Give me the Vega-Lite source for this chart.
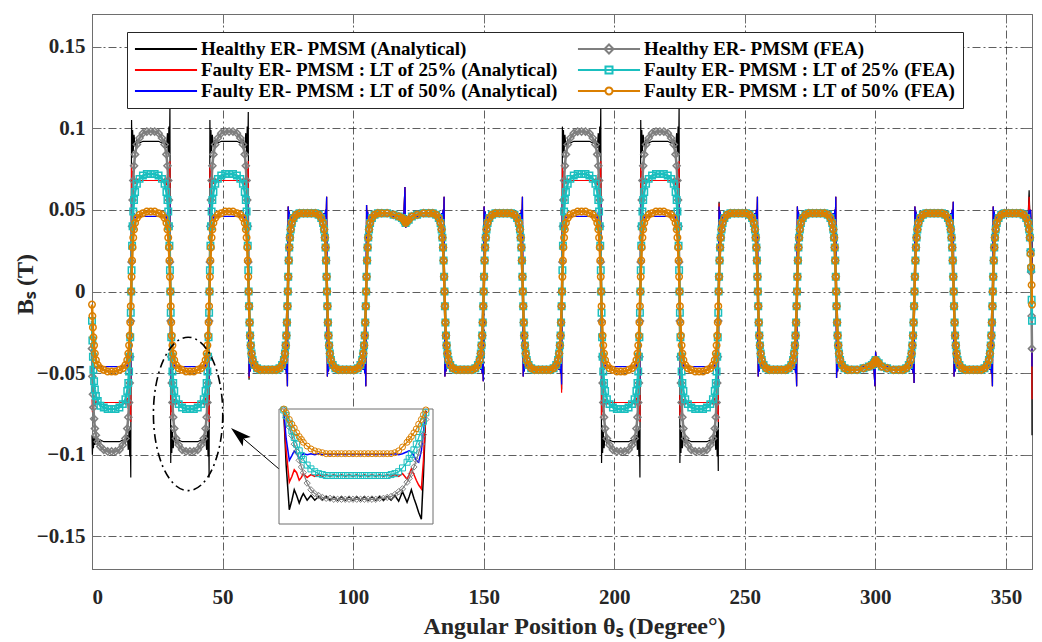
{
"$schema": "https://vega.github.io/schema/vega-lite/v6.json",
"width": 940,
"height": 555,
"autosize": {"type": "none"},
"padding": {"left": 92, "top": 14, "right": 10, "bottom": 73},
"background": "white",
"config": {
  "view": {"stroke": "#6e6e6e", "strokeWidth": 1},
  "axis": {
    "labelFont": "Liberation Serif", "labelFontWeight": "bold", "labelFontSize": 21, "labelColor": "#262626",
    "titleFont": "Liberation Serif", "titleFontWeight": "bold", "titleFontSize": 24, "titleColor": "#262626",
    "domainColor": "#6e6e6e", "tickColor": "#6e6e6e", "tickSize": -9, "tickWidth": 1,
    "gridColor": "#1a1a1a", "gridOpacity": 0.7, "gridDash": [8, 3, 2, 3], "gridWidth": 1
  }
},
"datasets": {
"main": [
{"x":0,"a":-0.088,"b":-0.066,"c":-0.046,"d":-0.035,"e":-0.018,"f":-0.008},
{"x":0.15,"a":-0.1,"b":-0.074,"c":-0.051,"d":-0.052,"e":-0.03,"f":-0.015},
{"x":0.35,"a":-0.09,"b":-0.066,"c":-0.045,"d":-0.063,"e":-0.04,"f":-0.022},
{"x":0.55,"a":-0.096,"b":-0.071,"c":-0.048,"d":-0.071,"e":-0.048,"f":-0.028},
{"x":0.8,"a":-0.089,"b":-0.066,"c":-0.045,"d":-0.078,"e":-0.055,"f":-0.033},
{"x":1.1,"a":-0.094,"b":-0.07,"c":-0.047,"d":-0.084,"e":-0.06,"f":-0.038},
{"x":1.5,"a":-0.09,"b":-0.067,"c":-0.046,"d":-0.088,"e":-0.064,"f":-0.042},
{"x":2.2,"a":-0.093,"b":-0.069,"c":-0.046,"d":-0.092,"e":-0.067,"f":-0.045},
{"x":3.2,"a":-0.091,"b":-0.068,"c":-0.046,"d":-0.095,"e":-0.07,"f":-0.047},
{"x":4.5,"a":-0.092,"b":-0.068,"c":-0.046,"d":-0.097,"e":-0.071,"f":-0.048},
{"x":6,"a":-0.092,"b":-0.068,"c":-0.046,"d":-0.098,"e":-0.072,"f":-0.049},
{"x":7.5,"a":-0.092,"b":-0.068,"c":-0.046,"d":-0.098,"e":-0.072,"f":-0.049},
{"x":9,"a":-0.092,"b":-0.068,"c":-0.046,"d":-0.098,"e":-0.072,"f":-0.049},
{"x":10.5,"a":-0.092,"b":-0.068,"c":-0.046,"d":-0.097,"e":-0.071,"f":-0.048},
{"x":11.8,"a":-0.091,"b":-0.068,"c":-0.046,"d":-0.094,"e":-0.069,"f":-0.047},
{"x":12.8,"a":-0.093,"b":-0.069,"c":-0.046,"d":-0.09,"e":-0.066,"f":-0.045},
{"x":13.5,"a":-0.088,"b":-0.065,"c":-0.045,"d":-0.084,"e":-0.061,"f":-0.042},
{"x":13.9,"a":-0.097,"b":-0.072,"c":-0.049,"d":-0.077,"e":-0.056,"f":-0.038},
{"x":14.2,"a":-0.084,"b":-0.062,"c":-0.042,"d":-0.068,"e":-0.049,"f":-0.033},
{"x":14.45,"a":-0.101,"b":-0.075,"c":-0.051,"d":-0.056,"e":-0.04,"f":-0.027},
{"x":14.65,"a":-0.083,"b":-0.061,"c":-0.042,"d":-0.04,"e":-0.028,"f":-0.019},
{"x":14.85,"a":-0.114,"b":-0.08,"c":-0.056,"d":-0.018,"e":-0.013,"f":-0.009},
{"x":15,"a":0,"b":0,"c":0,"d":0,"e":0,"f":0},
{"x":15.15,"a":0.105,"b":0.078,"c":0.054,"d":0.018,"e":0.013,"f":0.009},
{"x":15.35,"a":0.082,"b":0.062,"c":0.042,"d":0.04,"e":0.028,"f":0.019},
{"x":15.55,"a":0.099,"b":0.074,"c":0.05,"d":0.056,"e":0.04,"f":0.027},
{"x":15.8,"a":0.086,"b":0.064,"c":0.043,"d":0.068,"e":0.049,"f":0.033},
{"x":16.1,"a":0.096,"b":0.071,"c":0.048,"d":0.077,"e":0.056,"f":0.038},
{"x":16.5,"a":0.089,"b":0.066,"c":0.045,"d":0.084,"e":0.061,"f":0.042},
{"x":17.2,"a":0.093,"b":0.069,"c":0.046,"d":0.09,"e":0.066,"f":0.045},
{"x":18.2,"a":0.091,"b":0.068,"c":0.046,"d":0.094,"e":0.069,"f":0.047},
{"x":19.5,"a":0.092,"b":0.068,"c":0.046,"d":0.097,"e":0.071,"f":0.048},
{"x":21,"a":0.092,"b":0.068,"c":0.046,"d":0.098,"e":0.072,"f":0.049},
{"x":22.5,"a":0.092,"b":0.068,"c":0.046,"d":0.098,"e":0.072,"f":0.049},
{"x":24,"a":0.092,"b":0.068,"c":0.046,"d":0.098,"e":0.072,"f":0.049},
{"x":25.5,"a":0.092,"b":0.068,"c":0.046,"d":0.097,"e":0.071,"f":0.048},
{"x":26.8,"a":0.091,"b":0.068,"c":0.046,"d":0.094,"e":0.069,"f":0.047},
{"x":27.8,"a":0.093,"b":0.069,"c":0.046,"d":0.09,"e":0.066,"f":0.045},
{"x":28.5,"a":0.088,"b":0.065,"c":0.045,"d":0.084,"e":0.061,"f":0.042},
{"x":28.9,"a":0.097,"b":0.072,"c":0.049,"d":0.077,"e":0.056,"f":0.038},
{"x":29.2,"a":0.084,"b":0.062,"c":0.042,"d":0.068,"e":0.049,"f":0.033},
{"x":29.45,"a":0.101,"b":0.075,"c":0.051,"d":0.056,"e":0.04,"f":0.027},
{"x":29.65,"a":0.083,"b":0.061,"c":0.042,"d":0.04,"e":0.028,"f":0.019},
{"x":29.85,"a":0.114,"b":0.08,"c":0.056,"d":0.018,"e":0.013,"f":0.009},
{"x":30,"a":0,"b":0,"c":0,"d":0,"e":0,"f":0},
{"x":30.15,"a":-0.105,"b":-0.078,"c":-0.054,"d":-0.018,"e":-0.013,"f":-0.009},
{"x":30.35,"a":-0.082,"b":-0.062,"c":-0.042,"d":-0.04,"e":-0.028,"f":-0.019},
{"x":30.55,"a":-0.099,"b":-0.074,"c":-0.05,"d":-0.056,"e":-0.04,"f":-0.027},
{"x":30.8,"a":-0.086,"b":-0.064,"c":-0.043,"d":-0.068,"e":-0.049,"f":-0.033},
{"x":31.1,"a":-0.096,"b":-0.071,"c":-0.048,"d":-0.077,"e":-0.056,"f":-0.038},
{"x":31.5,"a":-0.089,"b":-0.066,"c":-0.045,"d":-0.084,"e":-0.061,"f":-0.042},
{"x":32.2,"a":-0.093,"b":-0.069,"c":-0.046,"d":-0.09,"e":-0.066,"f":-0.045},
{"x":33.2,"a":-0.091,"b":-0.068,"c":-0.046,"d":-0.094,"e":-0.069,"f":-0.047},
{"x":34.5,"a":-0.092,"b":-0.068,"c":-0.046,"d":-0.097,"e":-0.071,"f":-0.048},
{"x":36,"a":-0.092,"b":-0.068,"c":-0.046,"d":-0.098,"e":-0.072,"f":-0.049},
{"x":37.5,"a":-0.092,"b":-0.068,"c":-0.046,"d":-0.098,"e":-0.072,"f":-0.049},
{"x":39,"a":-0.092,"b":-0.068,"c":-0.046,"d":-0.098,"e":-0.072,"f":-0.049},
{"x":40.5,"a":-0.092,"b":-0.068,"c":-0.046,"d":-0.097,"e":-0.071,"f":-0.048},
{"x":41.8,"a":-0.091,"b":-0.068,"c":-0.046,"d":-0.094,"e":-0.069,"f":-0.047},
{"x":42.8,"a":-0.093,"b":-0.069,"c":-0.046,"d":-0.09,"e":-0.066,"f":-0.045},
{"x":43.5,"a":-0.088,"b":-0.065,"c":-0.045,"d":-0.084,"e":-0.061,"f":-0.042},
{"x":43.9,"a":-0.097,"b":-0.072,"c":-0.049,"d":-0.077,"e":-0.056,"f":-0.038},
{"x":44.2,"a":-0.084,"b":-0.062,"c":-0.042,"d":-0.068,"e":-0.049,"f":-0.033},
{"x":44.45,"a":-0.101,"b":-0.075,"c":-0.051,"d":-0.056,"e":-0.04,"f":-0.027},
{"x":44.65,"a":-0.083,"b":-0.061,"c":-0.042,"d":-0.04,"e":-0.028,"f":-0.019},
{"x":44.85,"a":-0.114,"b":-0.08,"c":-0.056,"d":-0.018,"e":-0.013,"f":-0.009},
{"x":45,"a":0,"b":0,"c":0,"d":0,"e":0,"f":0},
{"x":45.15,"a":0.105,"b":0.078,"c":0.054,"d":0.018,"e":0.013,"f":0.009},
{"x":45.35,"a":0.082,"b":0.062,"c":0.042,"d":0.04,"e":0.028,"f":0.019},
{"x":45.55,"a":0.099,"b":0.074,"c":0.05,"d":0.056,"e":0.04,"f":0.027},
{"x":45.8,"a":0.086,"b":0.064,"c":0.043,"d":0.068,"e":0.049,"f":0.033},
{"x":46.1,"a":0.096,"b":0.071,"c":0.048,"d":0.077,"e":0.056,"f":0.038},
{"x":46.5,"a":0.089,"b":0.066,"c":0.045,"d":0.084,"e":0.061,"f":0.042},
{"x":47.2,"a":0.093,"b":0.069,"c":0.046,"d":0.09,"e":0.066,"f":0.045},
{"x":48.2,"a":0.091,"b":0.068,"c":0.046,"d":0.094,"e":0.069,"f":0.047},
{"x":49.5,"a":0.092,"b":0.068,"c":0.046,"d":0.097,"e":0.071,"f":0.048},
{"x":51,"a":0.092,"b":0.068,"c":0.046,"d":0.098,"e":0.072,"f":0.049},
{"x":52.5,"a":0.092,"b":0.068,"c":0.046,"d":0.098,"e":0.072,"f":0.049},
{"x":54,"a":0.092,"b":0.068,"c":0.046,"d":0.098,"e":0.072,"f":0.049},
{"x":55.5,"a":0.092,"b":0.068,"c":0.046,"d":0.097,"e":0.071,"f":0.048},
{"x":56.8,"a":0.091,"b":0.068,"c":0.046,"d":0.094,"e":0.069,"f":0.047},
{"x":57.8,"a":0.093,"b":0.069,"c":0.046,"d":0.09,"e":0.066,"f":0.045},
{"x":58.5,"a":0.088,"b":0.065,"c":0.045,"d":0.084,"e":0.061,"f":0.042},
{"x":58.9,"a":0.097,"b":0.072,"c":0.049,"d":0.077,"e":0.056,"f":0.038},
{"x":59.2,"a":0.084,"b":0.062,"c":0.042,"d":0.068,"e":0.049,"f":0.033},
{"x":59.45,"a":0.101,"b":0.075,"c":0.051,"d":0.056,"e":0.04,"f":0.027},
{"x":59.65,"a":0.083,"b":0.061,"c":0.042,"d":0.04,"e":0.028,"f":0.019},
{"x":59.85,"a":0.11,"b":0.08,"c":0.056,"d":0.018,"e":0.013,"f":0.009},
{"x":60,"a":0,"b":0,"c":0,"d":0,"e":0,"f":0},
{"x":60.15,"a":-0.054,"b":-0.053,"c":-0.052,"d":-0.009,"e":-0.009,"f":-0.009},
{"x":60.35,"a":-0.041,"b":-0.041,"c":-0.041,"d":-0.019,"e":-0.019,"f":-0.019},
{"x":60.55,"a":-0.049,"b":-0.049,"c":-0.049,"d":-0.027,"e":-0.027,"f":-0.027},
{"x":60.8,"a":-0.043,"b":-0.043,"c":-0.043,"d":-0.033,"e":-0.033,"f":-0.033},
{"x":61.1,"a":-0.047,"b":-0.047,"c":-0.047,"d":-0.038,"e":-0.038,"f":-0.038},
{"x":61.5,"a":-0.045,"b":-0.045,"c":-0.045,"d":-0.042,"e":-0.042,"f":-0.042},
{"x":62.2,"a":-0.046,"b":-0.046,"c":-0.046,"d":-0.045,"e":-0.045,"f":-0.045},
{"x":63.2,"a":-0.046,"b":-0.046,"c":-0.046,"d":-0.047,"e":-0.047,"f":-0.047},
{"x":64.5,"a":-0.046,"b":-0.046,"c":-0.046,"d":-0.048,"e":-0.048,"f":-0.048},
{"x":66,"a":-0.046,"b":-0.046,"c":-0.046,"d":-0.048,"e":-0.048,"f":-0.048},
{"x":67.5,"a":-0.046,"b":-0.046,"c":-0.046,"d":-0.048,"e":-0.048,"f":-0.048},
{"x":69,"a":-0.046,"b":-0.046,"c":-0.046,"d":-0.048,"e":-0.048,"f":-0.048},
{"x":70.5,"a":-0.046,"b":-0.046,"c":-0.046,"d":-0.048,"e":-0.048,"f":-0.048},
{"x":71.8,"a":-0.046,"b":-0.046,"c":-0.046,"d":-0.047,"e":-0.047,"f":-0.047},
{"x":72.8,"a":-0.046,"b":-0.046,"c":-0.046,"d":-0.045,"e":-0.045,"f":-0.045},
{"x":73.5,"a":-0.045,"b":-0.045,"c":-0.045,"d":-0.042,"e":-0.042,"f":-0.042},
{"x":73.9,"a":-0.048,"b":-0.048,"c":-0.048,"d":-0.038,"e":-0.038,"f":-0.038},
{"x":74.2,"a":-0.043,"b":-0.043,"c":-0.043,"d":-0.033,"e":-0.033,"f":-0.033},
{"x":74.45,"a":-0.05,"b":-0.05,"c":-0.05,"d":-0.027,"e":-0.027,"f":-0.027},
{"x":74.65,"a":-0.042,"b":-0.042,"c":-0.042,"d":-0.019,"e":-0.019,"f":-0.019},
{"x":74.85,"a":-0.058,"b":-0.058,"c":-0.058,"d":-0.009,"e":-0.009,"f":-0.009},
{"x":75,"a":0,"b":0,"c":0,"d":0,"e":0,"f":0},
{"x":75.15,"a":0.052,"b":0.052,"c":0.052,"d":0.009,"e":0.009,"f":0.009},
{"x":75.35,"a":0.041,"b":0.041,"c":0.041,"d":0.019,"e":0.019,"f":0.019},
{"x":75.55,"a":0.049,"b":0.049,"c":0.049,"d":0.027,"e":0.027,"f":0.027},
{"x":75.8,"a":0.043,"b":0.043,"c":0.043,"d":0.033,"e":0.033,"f":0.033},
{"x":76.1,"a":0.047,"b":0.047,"c":0.047,"d":0.038,"e":0.038,"f":0.038},
{"x":76.5,"a":0.045,"b":0.045,"c":0.045,"d":0.042,"e":0.042,"f":0.042},
{"x":77.2,"a":0.046,"b":0.046,"c":0.046,"d":0.045,"e":0.045,"f":0.045},
{"x":78.2,"a":0.046,"b":0.046,"c":0.046,"d":0.047,"e":0.047,"f":0.047},
{"x":79.5,"a":0.046,"b":0.046,"c":0.046,"d":0.048,"e":0.048,"f":0.048},
{"x":81,"a":0.046,"b":0.046,"c":0.046,"d":0.048,"e":0.048,"f":0.048},
{"x":82.5,"a":0.046,"b":0.046,"c":0.046,"d":0.048,"e":0.048,"f":0.048},
{"x":84,"a":0.046,"b":0.046,"c":0.046,"d":0.048,"e":0.048,"f":0.048},
{"x":85.5,"a":0.046,"b":0.046,"c":0.046,"d":0.048,"e":0.048,"f":0.048},
{"x":86.8,"a":0.046,"b":0.046,"c":0.046,"d":0.047,"e":0.047,"f":0.047},
{"x":87.8,"a":0.046,"b":0.046,"c":0.046,"d":0.045,"e":0.045,"f":0.045},
{"x":88.5,"a":0.045,"b":0.045,"c":0.045,"d":0.042,"e":0.042,"f":0.042},
{"x":88.9,"a":0.048,"b":0.048,"c":0.048,"d":0.038,"e":0.038,"f":0.038},
{"x":89.2,"a":0.043,"b":0.043,"c":0.043,"d":0.033,"e":0.033,"f":0.033},
{"x":89.45,"a":0.05,"b":0.05,"c":0.05,"d":0.027,"e":0.027,"f":0.027},
{"x":89.65,"a":0.042,"b":0.042,"c":0.042,"d":0.019,"e":0.019,"f":0.019},
{"x":89.85,"a":0.058,"b":0.058,"c":0.058,"d":0.009,"e":0.009,"f":0.009},
{"x":90,"a":0,"b":0,"c":0,"d":0,"e":0,"f":0},
{"x":90.15,"a":-0.052,"b":-0.052,"c":-0.052,"d":-0.009,"e":-0.009,"f":-0.009},
{"x":90.35,"a":-0.041,"b":-0.041,"c":-0.041,"d":-0.019,"e":-0.019,"f":-0.019},
{"x":90.55,"a":-0.049,"b":-0.049,"c":-0.049,"d":-0.027,"e":-0.027,"f":-0.027},
{"x":90.8,"a":-0.043,"b":-0.043,"c":-0.043,"d":-0.033,"e":-0.033,"f":-0.033},
{"x":91.1,"a":-0.047,"b":-0.047,"c":-0.047,"d":-0.038,"e":-0.038,"f":-0.038},
{"x":91.5,"a":-0.045,"b":-0.045,"c":-0.045,"d":-0.042,"e":-0.042,"f":-0.042},
{"x":92.2,"a":-0.046,"b":-0.046,"c":-0.046,"d":-0.045,"e":-0.045,"f":-0.045},
{"x":93.2,"a":-0.046,"b":-0.046,"c":-0.046,"d":-0.047,"e":-0.047,"f":-0.047},
{"x":94.5,"a":-0.046,"b":-0.046,"c":-0.046,"d":-0.048,"e":-0.048,"f":-0.048},
{"x":96,"a":-0.046,"b":-0.046,"c":-0.046,"d":-0.048,"e":-0.048,"f":-0.048},
{"x":97.5,"a":-0.046,"b":-0.046,"c":-0.046,"d":-0.048,"e":-0.048,"f":-0.048},
{"x":99,"a":-0.046,"b":-0.046,"c":-0.046,"d":-0.048,"e":-0.048,"f":-0.048},
{"x":100.5,"a":-0.046,"b":-0.046,"c":-0.046,"d":-0.048,"e":-0.048,"f":-0.048},
{"x":101.8,"a":-0.046,"b":-0.046,"c":-0.046,"d":-0.047,"e":-0.047,"f":-0.047},
{"x":102.8,"a":-0.046,"b":-0.046,"c":-0.046,"d":-0.045,"e":-0.045,"f":-0.045},
{"x":103.5,"a":-0.045,"b":-0.045,"c":-0.045,"d":-0.042,"e":-0.042,"f":-0.042},
{"x":103.9,"a":-0.048,"b":-0.048,"c":-0.048,"d":-0.038,"e":-0.038,"f":-0.038},
{"x":104.2,"a":-0.043,"b":-0.043,"c":-0.043,"d":-0.033,"e":-0.033,"f":-0.033},
{"x":104.45,"a":-0.05,"b":-0.05,"c":-0.05,"d":-0.027,"e":-0.027,"f":-0.027},
{"x":104.65,"a":-0.042,"b":-0.042,"c":-0.042,"d":-0.019,"e":-0.019,"f":-0.019},
{"x":104.85,"a":-0.058,"b":-0.058,"c":-0.058,"d":-0.009,"e":-0.009,"f":-0.009},
{"x":105,"a":0,"b":0,"c":0,"d":0,"e":0,"f":0},
{"x":105.15,"a":0.053,"b":0.053,"c":0.053,"d":0.009,"e":0.009,"f":0.009},
{"x":105.35,"a":0.041,"b":0.041,"c":0.041,"d":0.019,"e":0.019,"f":0.019},
{"x":105.55,"a":0.049,"b":0.049,"c":0.049,"d":0.027,"e":0.027,"f":0.027},
{"x":105.8,"a":0.043,"b":0.043,"c":0.043,"d":0.033,"e":0.033,"f":0.033},
{"x":106.1,"a":0.047,"b":0.047,"c":0.047,"d":0.038,"e":0.038,"f":0.038},
{"x":106.5,"a":0.045,"b":0.045,"c":0.045,"d":0.042,"e":0.042,"f":0.042},
{"x":107.2,"a":0.046,"b":0.046,"c":0.046,"d":0.045,"e":0.045,"f":0.045},
{"x":108.2,"a":0.046,"b":0.046,"c":0.046,"d":0.047,"e":0.047,"f":0.047},
{"x":109.5,"a":0.046,"b":0.046,"c":0.046,"d":0.048,"e":0.048,"f":0.048},
{"x":111,"a":0.046,"b":0.046,"c":0.046,"d":0.048,"e":0.048,"f":0.048},
{"x":113,"a":0.046,"b":0.046,"c":0.046,"d":0.048,"e":0.048,"f":0.048},
{"x":115.5,"a":0.046,"b":0.046,"c":0.046,"d":0.047,"e":0.047,"f":0.047},
{"x":117.5,"a":0.046,"b":0.046,"c":0.046,"d":0.046,"e":0.046,"f":0.046},
{"x":118.7,"a":0.045,"b":0.045,"c":0.045,"d":0.045,"e":0.045,"f":0.045},
{"x":119.4,"a":0.046,"b":0.046,"c":0.046,"d":0.044,"e":0.044,"f":0.044},
{"x":119.85,"a":0.064,"b":0.064,"c":0.064,"d":0.043,"e":0.043,"f":0.043},
{"x":120.1,"a":0.039,"b":0.039,"c":0.039,"d":0.042,"e":0.042,"f":0.042},
{"x":120.5,"a":0.046,"b":0.046,"c":0.046,"d":0.043,"e":0.043,"f":0.043},
{"x":121.3,"a":0.045,"b":0.045,"c":0.045,"d":0.044,"e":0.044,"f":0.044},
{"x":122.5,"a":0.046,"b":0.046,"c":0.046,"d":0.046,"e":0.046,"f":0.046},
{"x":124.5,"a":0.046,"b":0.046,"c":0.046,"d":0.047,"e":0.047,"f":0.047},
{"x":127,"a":0.046,"b":0.046,"c":0.046,"d":0.048,"e":0.048,"f":0.048},
{"x":129,"a":0.046,"b":0.046,"c":0.046,"d":0.048,"e":0.048,"f":0.048},
{"x":130.5,"a":0.046,"b":0.046,"c":0.046,"d":0.048,"e":0.048,"f":0.048},
{"x":131.8,"a":0.046,"b":0.046,"c":0.046,"d":0.047,"e":0.047,"f":0.047},
{"x":132.8,"a":0.046,"b":0.046,"c":0.046,"d":0.045,"e":0.045,"f":0.045},
{"x":133.5,"a":0.045,"b":0.045,"c":0.045,"d":0.042,"e":0.042,"f":0.042},
{"x":133.9,"a":0.048,"b":0.048,"c":0.048,"d":0.038,"e":0.038,"f":0.038},
{"x":134.2,"a":0.043,"b":0.043,"c":0.043,"d":0.033,"e":0.033,"f":0.033},
{"x":134.45,"a":0.05,"b":0.05,"c":0.05,"d":0.027,"e":0.027,"f":0.027},
{"x":134.65,"a":0.042,"b":0.042,"c":0.042,"d":0.019,"e":0.019,"f":0.019},
{"x":134.85,"a":0.058,"b":0.058,"c":0.058,"d":0.009,"e":0.009,"f":0.009},
{"x":135,"a":0,"b":0,"c":0,"d":0,"e":0,"f":0},
{"x":135.15,"a":-0.052,"b":-0.052,"c":-0.052,"d":-0.009,"e":-0.009,"f":-0.009},
{"x":135.35,"a":-0.041,"b":-0.041,"c":-0.041,"d":-0.019,"e":-0.019,"f":-0.019},
{"x":135.55,"a":-0.049,"b":-0.049,"c":-0.049,"d":-0.027,"e":-0.027,"f":-0.027},
{"x":135.8,"a":-0.043,"b":-0.043,"c":-0.043,"d":-0.033,"e":-0.033,"f":-0.033},
{"x":136.1,"a":-0.047,"b":-0.047,"c":-0.047,"d":-0.038,"e":-0.038,"f":-0.038},
{"x":136.5,"a":-0.045,"b":-0.045,"c":-0.045,"d":-0.042,"e":-0.042,"f":-0.042},
{"x":137.2,"a":-0.046,"b":-0.046,"c":-0.046,"d":-0.045,"e":-0.045,"f":-0.045},
{"x":138.2,"a":-0.046,"b":-0.046,"c":-0.046,"d":-0.047,"e":-0.047,"f":-0.047},
{"x":139.5,"a":-0.046,"b":-0.046,"c":-0.046,"d":-0.048,"e":-0.048,"f":-0.048},
{"x":141,"a":-0.046,"b":-0.046,"c":-0.046,"d":-0.048,"e":-0.048,"f":-0.048},
{"x":142.5,"a":-0.046,"b":-0.046,"c":-0.046,"d":-0.048,"e":-0.048,"f":-0.048},
{"x":144,"a":-0.046,"b":-0.046,"c":-0.046,"d":-0.048,"e":-0.048,"f":-0.048},
{"x":145.5,"a":-0.046,"b":-0.046,"c":-0.046,"d":-0.048,"e":-0.048,"f":-0.048},
{"x":146.8,"a":-0.046,"b":-0.046,"c":-0.046,"d":-0.047,"e":-0.047,"f":-0.047},
{"x":147.8,"a":-0.046,"b":-0.046,"c":-0.046,"d":-0.045,"e":-0.045,"f":-0.045},
{"x":148.5,"a":-0.045,"b":-0.045,"c":-0.045,"d":-0.042,"e":-0.042,"f":-0.042},
{"x":148.9,"a":-0.048,"b":-0.048,"c":-0.048,"d":-0.038,"e":-0.038,"f":-0.038},
{"x":149.2,"a":-0.043,"b":-0.043,"c":-0.043,"d":-0.033,"e":-0.033,"f":-0.033},
{"x":149.45,"a":-0.05,"b":-0.05,"c":-0.05,"d":-0.027,"e":-0.027,"f":-0.027},
{"x":149.65,"a":-0.042,"b":-0.042,"c":-0.042,"d":-0.019,"e":-0.019,"f":-0.019},
{"x":149.85,"a":-0.055,"b":-0.055,"c":-0.055,"d":-0.009,"e":-0.009,"f":-0.009},
{"x":150,"a":0,"b":0,"c":0,"d":0,"e":0,"f":0},
{"x":150.15,"a":0.052,"b":0.052,"c":0.052,"d":0.009,"e":0.009,"f":0.009},
{"x":150.35,"a":0.041,"b":0.041,"c":0.041,"d":0.019,"e":0.019,"f":0.019},
{"x":150.55,"a":0.049,"b":0.049,"c":0.049,"d":0.027,"e":0.027,"f":0.027},
{"x":150.8,"a":0.043,"b":0.043,"c":0.043,"d":0.033,"e":0.033,"f":0.033},
{"x":151.1,"a":0.047,"b":0.047,"c":0.047,"d":0.038,"e":0.038,"f":0.038},
{"x":151.5,"a":0.045,"b":0.045,"c":0.045,"d":0.042,"e":0.042,"f":0.042},
{"x":152.2,"a":0.046,"b":0.046,"c":0.046,"d":0.045,"e":0.045,"f":0.045},
{"x":153.2,"a":0.046,"b":0.046,"c":0.046,"d":0.047,"e":0.047,"f":0.047},
{"x":154.5,"a":0.046,"b":0.046,"c":0.046,"d":0.048,"e":0.048,"f":0.048},
{"x":156,"a":0.046,"b":0.046,"c":0.046,"d":0.048,"e":0.048,"f":0.048},
{"x":157.5,"a":0.046,"b":0.046,"c":0.046,"d":0.048,"e":0.048,"f":0.048},
{"x":159,"a":0.046,"b":0.046,"c":0.046,"d":0.048,"e":0.048,"f":0.048},
{"x":160.5,"a":0.046,"b":0.046,"c":0.046,"d":0.048,"e":0.048,"f":0.048},
{"x":161.8,"a":0.046,"b":0.046,"c":0.046,"d":0.047,"e":0.047,"f":0.047},
{"x":162.8,"a":0.046,"b":0.046,"c":0.046,"d":0.045,"e":0.045,"f":0.045},
{"x":163.5,"a":0.045,"b":0.045,"c":0.045,"d":0.042,"e":0.042,"f":0.042},
{"x":163.9,"a":0.048,"b":0.048,"c":0.048,"d":0.038,"e":0.038,"f":0.038},
{"x":164.2,"a":0.043,"b":0.043,"c":0.043,"d":0.033,"e":0.033,"f":0.033},
{"x":164.45,"a":0.05,"b":0.05,"c":0.05,"d":0.027,"e":0.027,"f":0.027},
{"x":164.65,"a":0.042,"b":0.042,"c":0.042,"d":0.019,"e":0.019,"f":0.019},
{"x":164.85,"a":0.058,"b":0.058,"c":0.058,"d":0.009,"e":0.009,"f":0.009},
{"x":165,"a":0,"b":0,"c":0,"d":0,"e":0,"f":0},
{"x":165.15,"a":-0.052,"b":-0.052,"c":-0.052,"d":-0.009,"e":-0.009,"f":-0.009},
{"x":165.35,"a":-0.041,"b":-0.041,"c":-0.041,"d":-0.019,"e":-0.019,"f":-0.019},
{"x":165.55,"a":-0.049,"b":-0.049,"c":-0.049,"d":-0.027,"e":-0.027,"f":-0.027},
{"x":165.8,"a":-0.043,"b":-0.043,"c":-0.043,"d":-0.033,"e":-0.033,"f":-0.033},
{"x":166.1,"a":-0.047,"b":-0.047,"c":-0.047,"d":-0.038,"e":-0.038,"f":-0.038},
{"x":166.5,"a":-0.045,"b":-0.045,"c":-0.045,"d":-0.042,"e":-0.042,"f":-0.042},
{"x":167.2,"a":-0.046,"b":-0.046,"c":-0.046,"d":-0.045,"e":-0.045,"f":-0.045},
{"x":168.2,"a":-0.046,"b":-0.046,"c":-0.046,"d":-0.047,"e":-0.047,"f":-0.047},
{"x":169.5,"a":-0.046,"b":-0.046,"c":-0.046,"d":-0.048,"e":-0.048,"f":-0.048},
{"x":171,"a":-0.046,"b":-0.046,"c":-0.046,"d":-0.048,"e":-0.048,"f":-0.048},
{"x":172.5,"a":-0.046,"b":-0.046,"c":-0.046,"d":-0.048,"e":-0.048,"f":-0.048},
{"x":174,"a":-0.046,"b":-0.046,"c":-0.046,"d":-0.048,"e":-0.048,"f":-0.048},
{"x":175.5,"a":-0.046,"b":-0.046,"c":-0.046,"d":-0.048,"e":-0.048,"f":-0.048},
{"x":176.8,"a":-0.046,"b":-0.046,"c":-0.046,"d":-0.047,"e":-0.047,"f":-0.047},
{"x":177.8,"a":-0.046,"b":-0.046,"c":-0.046,"d":-0.045,"e":-0.045,"f":-0.045},
{"x":178.5,"a":-0.045,"b":-0.045,"c":-0.045,"d":-0.042,"e":-0.042,"f":-0.042},
{"x":178.9,"a":-0.048,"b":-0.048,"c":-0.048,"d":-0.038,"e":-0.038,"f":-0.038},
{"x":179.2,"a":-0.043,"b":-0.043,"c":-0.043,"d":-0.033,"e":-0.033,"f":-0.033},
{"x":179.45,"a":-0.05,"b":-0.05,"c":-0.05,"d":-0.027,"e":-0.027,"f":-0.027},
{"x":179.65,"a":-0.042,"b":-0.042,"c":-0.042,"d":-0.019,"e":-0.019,"f":-0.019},
{"x":179.85,"a":-0.06,"b":-0.062,"c":-0.057,"d":-0.009,"e":-0.009,"f":-0.009},
{"x":180,"a":0,"b":0,"c":0,"d":0,"e":0,"f":0},
{"x":180.15,"a":0.101,"b":0.078,"c":0.054,"d":0.018,"e":0.013,"f":0.009},
{"x":180.35,"a":0.082,"b":0.062,"c":0.042,"d":0.04,"e":0.028,"f":0.019},
{"x":180.55,"a":0.099,"b":0.074,"c":0.05,"d":0.056,"e":0.04,"f":0.027},
{"x":180.8,"a":0.086,"b":0.064,"c":0.043,"d":0.068,"e":0.049,"f":0.033},
{"x":181.1,"a":0.096,"b":0.071,"c":0.048,"d":0.077,"e":0.056,"f":0.038},
{"x":181.5,"a":0.089,"b":0.066,"c":0.045,"d":0.084,"e":0.061,"f":0.042},
{"x":182.2,"a":0.093,"b":0.069,"c":0.046,"d":0.09,"e":0.066,"f":0.045},
{"x":183.2,"a":0.091,"b":0.068,"c":0.046,"d":0.094,"e":0.069,"f":0.047},
{"x":184.5,"a":0.092,"b":0.068,"c":0.046,"d":0.097,"e":0.071,"f":0.048},
{"x":186,"a":0.092,"b":0.068,"c":0.046,"d":0.098,"e":0.072,"f":0.049},
{"x":187.5,"a":0.092,"b":0.068,"c":0.046,"d":0.098,"e":0.072,"f":0.049},
{"x":189,"a":0.092,"b":0.068,"c":0.046,"d":0.098,"e":0.072,"f":0.049},
{"x":190.5,"a":0.092,"b":0.068,"c":0.046,"d":0.097,"e":0.071,"f":0.048},
{"x":191.8,"a":0.091,"b":0.068,"c":0.046,"d":0.094,"e":0.069,"f":0.047},
{"x":192.8,"a":0.093,"b":0.069,"c":0.046,"d":0.09,"e":0.066,"f":0.045},
{"x":193.5,"a":0.088,"b":0.065,"c":0.045,"d":0.084,"e":0.061,"f":0.042},
{"x":193.9,"a":0.097,"b":0.072,"c":0.049,"d":0.077,"e":0.056,"f":0.038},
{"x":194.2,"a":0.084,"b":0.062,"c":0.042,"d":0.068,"e":0.049,"f":0.033},
{"x":194.45,"a":0.101,"b":0.075,"c":0.051,"d":0.056,"e":0.04,"f":0.027},
{"x":194.65,"a":0.083,"b":0.061,"c":0.042,"d":0.04,"e":0.028,"f":0.019},
{"x":194.85,"a":0.114,"b":0.08,"c":0.056,"d":0.018,"e":0.013,"f":0.009},
{"x":195,"a":0,"b":0,"c":0,"d":0,"e":0,"f":0},
{"x":195.15,"a":-0.105,"b":-0.078,"c":-0.054,"d":-0.018,"e":-0.013,"f":-0.009},
{"x":195.35,"a":-0.082,"b":-0.062,"c":-0.042,"d":-0.04,"e":-0.028,"f":-0.019},
{"x":195.55,"a":-0.099,"b":-0.074,"c":-0.05,"d":-0.056,"e":-0.04,"f":-0.027},
{"x":195.8,"a":-0.086,"b":-0.064,"c":-0.043,"d":-0.068,"e":-0.049,"f":-0.033},
{"x":196.1,"a":-0.096,"b":-0.071,"c":-0.048,"d":-0.077,"e":-0.056,"f":-0.038},
{"x":196.5,"a":-0.089,"b":-0.066,"c":-0.045,"d":-0.084,"e":-0.061,"f":-0.042},
{"x":197.2,"a":-0.093,"b":-0.069,"c":-0.046,"d":-0.09,"e":-0.066,"f":-0.045},
{"x":198.2,"a":-0.091,"b":-0.068,"c":-0.046,"d":-0.094,"e":-0.069,"f":-0.047},
{"x":199.5,"a":-0.092,"b":-0.068,"c":-0.046,"d":-0.097,"e":-0.071,"f":-0.048},
{"x":201,"a":-0.092,"b":-0.068,"c":-0.046,"d":-0.098,"e":-0.072,"f":-0.049},
{"x":202.5,"a":-0.092,"b":-0.068,"c":-0.046,"d":-0.098,"e":-0.072,"f":-0.049},
{"x":204,"a":-0.092,"b":-0.068,"c":-0.046,"d":-0.098,"e":-0.072,"f":-0.049},
{"x":205.5,"a":-0.092,"b":-0.068,"c":-0.046,"d":-0.097,"e":-0.071,"f":-0.048},
{"x":206.8,"a":-0.091,"b":-0.068,"c":-0.046,"d":-0.094,"e":-0.069,"f":-0.047},
{"x":207.8,"a":-0.093,"b":-0.069,"c":-0.046,"d":-0.09,"e":-0.066,"f":-0.045},
{"x":208.5,"a":-0.088,"b":-0.065,"c":-0.045,"d":-0.084,"e":-0.061,"f":-0.042},
{"x":208.9,"a":-0.097,"b":-0.072,"c":-0.049,"d":-0.077,"e":-0.056,"f":-0.038},
{"x":209.2,"a":-0.084,"b":-0.062,"c":-0.042,"d":-0.068,"e":-0.049,"f":-0.033},
{"x":209.45,"a":-0.101,"b":-0.075,"c":-0.051,"d":-0.056,"e":-0.04,"f":-0.027},
{"x":209.65,"a":-0.083,"b":-0.061,"c":-0.042,"d":-0.04,"e":-0.028,"f":-0.019},
{"x":209.85,"a":-0.114,"b":-0.08,"c":-0.056,"d":-0.018,"e":-0.013,"f":-0.009},
{"x":210,"a":0,"b":0,"c":0,"d":0,"e":0,"f":0},
{"x":210.15,"a":0.105,"b":0.078,"c":0.054,"d":0.018,"e":0.013,"f":0.009},
{"x":210.35,"a":0.082,"b":0.062,"c":0.042,"d":0.04,"e":0.028,"f":0.019},
{"x":210.55,"a":0.099,"b":0.074,"c":0.05,"d":0.056,"e":0.04,"f":0.027},
{"x":210.8,"a":0.086,"b":0.064,"c":0.043,"d":0.068,"e":0.049,"f":0.033},
{"x":211.1,"a":0.096,"b":0.071,"c":0.048,"d":0.077,"e":0.056,"f":0.038},
{"x":211.5,"a":0.089,"b":0.066,"c":0.045,"d":0.084,"e":0.061,"f":0.042},
{"x":212.2,"a":0.093,"b":0.069,"c":0.046,"d":0.09,"e":0.066,"f":0.045},
{"x":213.2,"a":0.091,"b":0.068,"c":0.046,"d":0.094,"e":0.069,"f":0.047},
{"x":214.5,"a":0.092,"b":0.068,"c":0.046,"d":0.097,"e":0.071,"f":0.048},
{"x":216,"a":0.092,"b":0.068,"c":0.046,"d":0.098,"e":0.072,"f":0.049},
{"x":217.5,"a":0.092,"b":0.068,"c":0.046,"d":0.098,"e":0.072,"f":0.049},
{"x":219,"a":0.092,"b":0.068,"c":0.046,"d":0.098,"e":0.072,"f":0.049},
{"x":220.5,"a":0.092,"b":0.068,"c":0.046,"d":0.097,"e":0.071,"f":0.048},
{"x":221.8,"a":0.091,"b":0.068,"c":0.046,"d":0.094,"e":0.069,"f":0.047},
{"x":222.8,"a":0.093,"b":0.069,"c":0.046,"d":0.09,"e":0.066,"f":0.045},
{"x":223.5,"a":0.088,"b":0.065,"c":0.045,"d":0.084,"e":0.061,"f":0.042},
{"x":223.9,"a":0.097,"b":0.072,"c":0.049,"d":0.077,"e":0.056,"f":0.038},
{"x":224.2,"a":0.084,"b":0.062,"c":0.042,"d":0.068,"e":0.049,"f":0.033},
{"x":224.45,"a":0.101,"b":0.075,"c":0.051,"d":0.056,"e":0.04,"f":0.027},
{"x":224.65,"a":0.083,"b":0.061,"c":0.042,"d":0.04,"e":0.028,"f":0.019},
{"x":224.85,"a":0.114,"b":0.08,"c":0.056,"d":0.018,"e":0.013,"f":0.009},
{"x":225,"a":0,"b":0,"c":0,"d":0,"e":0,"f":0},
{"x":225.15,"a":-0.105,"b":-0.078,"c":-0.054,"d":-0.018,"e":-0.013,"f":-0.009},
{"x":225.35,"a":-0.082,"b":-0.062,"c":-0.042,"d":-0.04,"e":-0.028,"f":-0.019},
{"x":225.55,"a":-0.099,"b":-0.074,"c":-0.05,"d":-0.056,"e":-0.04,"f":-0.027},
{"x":225.8,"a":-0.086,"b":-0.064,"c":-0.043,"d":-0.068,"e":-0.049,"f":-0.033},
{"x":226.1,"a":-0.096,"b":-0.071,"c":-0.048,"d":-0.077,"e":-0.056,"f":-0.038},
{"x":226.5,"a":-0.089,"b":-0.066,"c":-0.045,"d":-0.084,"e":-0.061,"f":-0.042},
{"x":227.2,"a":-0.093,"b":-0.069,"c":-0.046,"d":-0.09,"e":-0.066,"f":-0.045},
{"x":228.2,"a":-0.091,"b":-0.068,"c":-0.046,"d":-0.094,"e":-0.069,"f":-0.047},
{"x":229.5,"a":-0.092,"b":-0.068,"c":-0.046,"d":-0.097,"e":-0.071,"f":-0.048},
{"x":231,"a":-0.092,"b":-0.068,"c":-0.046,"d":-0.098,"e":-0.072,"f":-0.049},
{"x":232.5,"a":-0.092,"b":-0.068,"c":-0.046,"d":-0.098,"e":-0.072,"f":-0.049},
{"x":234,"a":-0.092,"b":-0.068,"c":-0.046,"d":-0.098,"e":-0.072,"f":-0.049},
{"x":235.5,"a":-0.092,"b":-0.068,"c":-0.046,"d":-0.097,"e":-0.071,"f":-0.048},
{"x":236.8,"a":-0.091,"b":-0.068,"c":-0.046,"d":-0.094,"e":-0.069,"f":-0.047},
{"x":237.8,"a":-0.093,"b":-0.069,"c":-0.046,"d":-0.09,"e":-0.066,"f":-0.045},
{"x":238.5,"a":-0.088,"b":-0.065,"c":-0.045,"d":-0.084,"e":-0.061,"f":-0.042},
{"x":238.9,"a":-0.097,"b":-0.072,"c":-0.049,"d":-0.077,"e":-0.056,"f":-0.038},
{"x":239.2,"a":-0.084,"b":-0.062,"c":-0.042,"d":-0.068,"e":-0.049,"f":-0.033},
{"x":239.45,"a":-0.101,"b":-0.075,"c":-0.051,"d":-0.056,"e":-0.04,"f":-0.027},
{"x":239.65,"a":-0.083,"b":-0.061,"c":-0.042,"d":-0.04,"e":-0.028,"f":-0.019},
{"x":239.85,"a":-0.11,"b":-0.08,"c":-0.056,"d":-0.018,"e":-0.013,"f":-0.009},
{"x":240,"a":0,"b":0,"c":0,"d":0,"e":0,"f":0},
{"x":240.15,"a":0.055,"b":0.054,"c":0.052,"d":0.009,"e":0.009,"f":0.009},
{"x":240.35,"a":0.041,"b":0.041,"c":0.041,"d":0.019,"e":0.019,"f":0.019},
{"x":240.55,"a":0.049,"b":0.049,"c":0.049,"d":0.027,"e":0.027,"f":0.027},
{"x":240.8,"a":0.043,"b":0.043,"c":0.043,"d":0.033,"e":0.033,"f":0.033},
{"x":241.1,"a":0.047,"b":0.047,"c":0.047,"d":0.038,"e":0.038,"f":0.038},
{"x":241.5,"a":0.045,"b":0.045,"c":0.045,"d":0.042,"e":0.042,"f":0.042},
{"x":242.2,"a":0.046,"b":0.046,"c":0.046,"d":0.045,"e":0.045,"f":0.045},
{"x":243.2,"a":0.046,"b":0.046,"c":0.046,"d":0.047,"e":0.047,"f":0.047},
{"x":244.5,"a":0.046,"b":0.046,"c":0.046,"d":0.048,"e":0.048,"f":0.048},
{"x":246,"a":0.046,"b":0.046,"c":0.046,"d":0.048,"e":0.048,"f":0.048},
{"x":247.5,"a":0.046,"b":0.046,"c":0.046,"d":0.048,"e":0.048,"f":0.048},
{"x":249,"a":0.046,"b":0.046,"c":0.046,"d":0.048,"e":0.048,"f":0.048},
{"x":250.5,"a":0.046,"b":0.046,"c":0.046,"d":0.048,"e":0.048,"f":0.048},
{"x":251.8,"a":0.046,"b":0.046,"c":0.046,"d":0.047,"e":0.047,"f":0.047},
{"x":252.8,"a":0.046,"b":0.046,"c":0.046,"d":0.045,"e":0.045,"f":0.045},
{"x":253.5,"a":0.045,"b":0.045,"c":0.045,"d":0.042,"e":0.042,"f":0.042},
{"x":253.9,"a":0.048,"b":0.048,"c":0.048,"d":0.038,"e":0.038,"f":0.038},
{"x":254.2,"a":0.043,"b":0.043,"c":0.043,"d":0.033,"e":0.033,"f":0.033},
{"x":254.45,"a":0.05,"b":0.05,"c":0.05,"d":0.027,"e":0.027,"f":0.027},
{"x":254.65,"a":0.042,"b":0.042,"c":0.042,"d":0.019,"e":0.019,"f":0.019},
{"x":254.85,"a":0.058,"b":0.058,"c":0.058,"d":0.009,"e":0.009,"f":0.009},
{"x":255,"a":0,"b":0,"c":0,"d":0,"e":0,"f":0},
{"x":255.15,"a":-0.052,"b":-0.052,"c":-0.052,"d":-0.009,"e":-0.009,"f":-0.009},
{"x":255.35,"a":-0.041,"b":-0.041,"c":-0.041,"d":-0.019,"e":-0.019,"f":-0.019},
{"x":255.55,"a":-0.049,"b":-0.049,"c":-0.049,"d":-0.027,"e":-0.027,"f":-0.027},
{"x":255.8,"a":-0.043,"b":-0.043,"c":-0.043,"d":-0.033,"e":-0.033,"f":-0.033},
{"x":256.1,"a":-0.047,"b":-0.047,"c":-0.047,"d":-0.038,"e":-0.038,"f":-0.038},
{"x":256.5,"a":-0.045,"b":-0.045,"c":-0.045,"d":-0.042,"e":-0.042,"f":-0.042},
{"x":257.2,"a":-0.046,"b":-0.046,"c":-0.046,"d":-0.045,"e":-0.045,"f":-0.045},
{"x":258.2,"a":-0.046,"b":-0.046,"c":-0.046,"d":-0.047,"e":-0.047,"f":-0.047},
{"x":259.5,"a":-0.046,"b":-0.046,"c":-0.046,"d":-0.048,"e":-0.048,"f":-0.048},
{"x":261,"a":-0.046,"b":-0.046,"c":-0.046,"d":-0.048,"e":-0.048,"f":-0.048},
{"x":262.5,"a":-0.046,"b":-0.046,"c":-0.046,"d":-0.048,"e":-0.048,"f":-0.048},
{"x":264,"a":-0.046,"b":-0.046,"c":-0.046,"d":-0.048,"e":-0.048,"f":-0.048},
{"x":265.5,"a":-0.046,"b":-0.046,"c":-0.046,"d":-0.048,"e":-0.048,"f":-0.048},
{"x":266.8,"a":-0.046,"b":-0.046,"c":-0.046,"d":-0.047,"e":-0.047,"f":-0.047},
{"x":267.8,"a":-0.046,"b":-0.046,"c":-0.046,"d":-0.045,"e":-0.045,"f":-0.045},
{"x":268.5,"a":-0.045,"b":-0.045,"c":-0.045,"d":-0.042,"e":-0.042,"f":-0.042},
{"x":268.9,"a":-0.048,"b":-0.048,"c":-0.048,"d":-0.038,"e":-0.038,"f":-0.038},
{"x":269.2,"a":-0.043,"b":-0.043,"c":-0.043,"d":-0.033,"e":-0.033,"f":-0.033},
{"x":269.45,"a":-0.05,"b":-0.05,"c":-0.05,"d":-0.027,"e":-0.027,"f":-0.027},
{"x":269.65,"a":-0.042,"b":-0.042,"c":-0.042,"d":-0.019,"e":-0.019,"f":-0.019},
{"x":269.85,"a":-0.058,"b":-0.058,"c":-0.058,"d":-0.009,"e":-0.009,"f":-0.009},
{"x":270,"a":0,"b":0,"c":0,"d":0,"e":0,"f":0},
{"x":270.15,"a":0.052,"b":0.052,"c":0.052,"d":0.009,"e":0.009,"f":0.009},
{"x":270.35,"a":0.041,"b":0.041,"c":0.041,"d":0.019,"e":0.019,"f":0.019},
{"x":270.55,"a":0.049,"b":0.049,"c":0.049,"d":0.027,"e":0.027,"f":0.027},
{"x":270.8,"a":0.043,"b":0.043,"c":0.043,"d":0.033,"e":0.033,"f":0.033},
{"x":271.1,"a":0.047,"b":0.047,"c":0.047,"d":0.038,"e":0.038,"f":0.038},
{"x":271.5,"a":0.045,"b":0.045,"c":0.045,"d":0.042,"e":0.042,"f":0.042},
{"x":272.2,"a":0.046,"b":0.046,"c":0.046,"d":0.045,"e":0.045,"f":0.045},
{"x":273.2,"a":0.046,"b":0.046,"c":0.046,"d":0.047,"e":0.047,"f":0.047},
{"x":274.5,"a":0.046,"b":0.046,"c":0.046,"d":0.048,"e":0.048,"f":0.048},
{"x":276,"a":0.046,"b":0.046,"c":0.046,"d":0.048,"e":0.048,"f":0.048},
{"x":277.5,"a":0.046,"b":0.046,"c":0.046,"d":0.048,"e":0.048,"f":0.048},
{"x":279,"a":0.046,"b":0.046,"c":0.046,"d":0.048,"e":0.048,"f":0.048},
{"x":280.5,"a":0.046,"b":0.046,"c":0.046,"d":0.048,"e":0.048,"f":0.048},
{"x":281.8,"a":0.046,"b":0.046,"c":0.046,"d":0.047,"e":0.047,"f":0.047},
{"x":282.8,"a":0.046,"b":0.046,"c":0.046,"d":0.045,"e":0.045,"f":0.045},
{"x":283.5,"a":0.045,"b":0.045,"c":0.045,"d":0.042,"e":0.042,"f":0.042},
{"x":283.9,"a":0.048,"b":0.048,"c":0.048,"d":0.038,"e":0.038,"f":0.038},
{"x":284.2,"a":0.043,"b":0.043,"c":0.043,"d":0.033,"e":0.033,"f":0.033},
{"x":284.45,"a":0.05,"b":0.05,"c":0.05,"d":0.027,"e":0.027,"f":0.027},
{"x":284.65,"a":0.042,"b":0.042,"c":0.042,"d":0.019,"e":0.019,"f":0.019},
{"x":284.85,"a":0.058,"b":0.058,"c":0.058,"d":0.009,"e":0.009,"f":0.009},
{"x":285,"a":0,"b":0,"c":0,"d":0,"e":0,"f":0},
{"x":285.15,"a":-0.053,"b":-0.053,"c":-0.053,"d":-0.009,"e":-0.009,"f":-0.009},
{"x":285.35,"a":-0.041,"b":-0.041,"c":-0.041,"d":-0.019,"e":-0.019,"f":-0.019},
{"x":285.55,"a":-0.049,"b":-0.049,"c":-0.049,"d":-0.027,"e":-0.027,"f":-0.027},
{"x":285.8,"a":-0.043,"b":-0.043,"c":-0.043,"d":-0.033,"e":-0.033,"f":-0.033},
{"x":286.1,"a":-0.047,"b":-0.047,"c":-0.047,"d":-0.038,"e":-0.038,"f":-0.038},
{"x":286.5,"a":-0.045,"b":-0.045,"c":-0.045,"d":-0.042,"e":-0.042,"f":-0.042},
{"x":287.2,"a":-0.046,"b":-0.046,"c":-0.046,"d":-0.045,"e":-0.045,"f":-0.045},
{"x":288.2,"a":-0.046,"b":-0.046,"c":-0.046,"d":-0.047,"e":-0.047,"f":-0.047},
{"x":289.5,"a":-0.046,"b":-0.046,"c":-0.046,"d":-0.048,"e":-0.048,"f":-0.048},
{"x":291,"a":-0.046,"b":-0.046,"c":-0.046,"d":-0.048,"e":-0.048,"f":-0.048},
{"x":293,"a":-0.046,"b":-0.046,"c":-0.046,"d":-0.048,"e":-0.048,"f":-0.048},
{"x":295.5,"a":-0.046,"b":-0.046,"c":-0.046,"d":-0.047,"e":-0.047,"f":-0.047},
{"x":297.5,"a":-0.046,"b":-0.046,"c":-0.046,"d":-0.046,"e":-0.046,"f":-0.046},
{"x":298.7,"a":-0.045,"b":-0.045,"c":-0.045,"d":-0.045,"e":-0.045,"f":-0.045},
{"x":299.4,"a":-0.046,"b":-0.046,"c":-0.046,"d":-0.044,"e":-0.044,"f":-0.044},
{"x":299.85,"a":-0.058,"b":-0.058,"c":-0.058,"d":-0.043,"e":-0.043,"f":-0.043},
{"x":300.1,"a":-0.037,"b":-0.037,"c":-0.037,"d":-0.042,"e":-0.042,"f":-0.042},
{"x":300.5,"a":-0.046,"b":-0.046,"c":-0.046,"d":-0.043,"e":-0.043,"f":-0.043},
{"x":301.3,"a":-0.045,"b":-0.045,"c":-0.045,"d":-0.044,"e":-0.044,"f":-0.044},
{"x":302.5,"a":-0.046,"b":-0.046,"c":-0.046,"d":-0.046,"e":-0.046,"f":-0.046},
{"x":304.5,"a":-0.046,"b":-0.046,"c":-0.046,"d":-0.047,"e":-0.047,"f":-0.047},
{"x":307,"a":-0.046,"b":-0.046,"c":-0.046,"d":-0.048,"e":-0.048,"f":-0.048},
{"x":309,"a":-0.046,"b":-0.046,"c":-0.046,"d":-0.048,"e":-0.048,"f":-0.048},
{"x":310.5,"a":-0.046,"b":-0.046,"c":-0.046,"d":-0.048,"e":-0.048,"f":-0.048},
{"x":311.8,"a":-0.046,"b":-0.046,"c":-0.046,"d":-0.047,"e":-0.047,"f":-0.047},
{"x":312.8,"a":-0.046,"b":-0.046,"c":-0.046,"d":-0.045,"e":-0.045,"f":-0.045},
{"x":313.5,"a":-0.045,"b":-0.045,"c":-0.045,"d":-0.042,"e":-0.042,"f":-0.042},
{"x":313.9,"a":-0.048,"b":-0.048,"c":-0.048,"d":-0.038,"e":-0.038,"f":-0.038},
{"x":314.2,"a":-0.043,"b":-0.043,"c":-0.043,"d":-0.033,"e":-0.033,"f":-0.033},
{"x":314.45,"a":-0.05,"b":-0.05,"c":-0.05,"d":-0.027,"e":-0.027,"f":-0.027},
{"x":314.65,"a":-0.042,"b":-0.042,"c":-0.042,"d":-0.019,"e":-0.019,"f":-0.019},
{"x":314.85,"a":-0.056,"b":-0.056,"c":-0.056,"d":-0.009,"e":-0.009,"f":-0.009},
{"x":315,"a":0,"b":0,"c":0,"d":0,"e":0,"f":0},
{"x":315.15,"a":0.052,"b":0.052,"c":0.052,"d":0.009,"e":0.009,"f":0.009},
{"x":315.35,"a":0.041,"b":0.041,"c":0.041,"d":0.019,"e":0.019,"f":0.019},
{"x":315.55,"a":0.049,"b":0.049,"c":0.049,"d":0.027,"e":0.027,"f":0.027},
{"x":315.8,"a":0.043,"b":0.043,"c":0.043,"d":0.033,"e":0.033,"f":0.033},
{"x":316.1,"a":0.047,"b":0.047,"c":0.047,"d":0.038,"e":0.038,"f":0.038},
{"x":316.5,"a":0.045,"b":0.045,"c":0.045,"d":0.042,"e":0.042,"f":0.042},
{"x":317.2,"a":0.046,"b":0.046,"c":0.046,"d":0.045,"e":0.045,"f":0.045},
{"x":318.2,"a":0.046,"b":0.046,"c":0.046,"d":0.047,"e":0.047,"f":0.047},
{"x":319.5,"a":0.046,"b":0.046,"c":0.046,"d":0.048,"e":0.048,"f":0.048},
{"x":321,"a":0.046,"b":0.046,"c":0.046,"d":0.048,"e":0.048,"f":0.048},
{"x":322.5,"a":0.046,"b":0.046,"c":0.046,"d":0.048,"e":0.048,"f":0.048},
{"x":324,"a":0.046,"b":0.046,"c":0.046,"d":0.048,"e":0.048,"f":0.048},
{"x":325.5,"a":0.046,"b":0.046,"c":0.046,"d":0.048,"e":0.048,"f":0.048},
{"x":326.8,"a":0.046,"b":0.046,"c":0.046,"d":0.047,"e":0.047,"f":0.047},
{"x":327.8,"a":0.046,"b":0.046,"c":0.046,"d":0.045,"e":0.045,"f":0.045},
{"x":328.5,"a":0.045,"b":0.045,"c":0.045,"d":0.042,"e":0.042,"f":0.042},
{"x":328.9,"a":0.048,"b":0.048,"c":0.048,"d":0.038,"e":0.038,"f":0.038},
{"x":329.2,"a":0.043,"b":0.043,"c":0.043,"d":0.033,"e":0.033,"f":0.033},
{"x":329.45,"a":0.05,"b":0.05,"c":0.05,"d":0.027,"e":0.027,"f":0.027},
{"x":329.65,"a":0.042,"b":0.042,"c":0.042,"d":0.019,"e":0.019,"f":0.019},
{"x":329.85,"a":0.055,"b":0.055,"c":0.055,"d":0.009,"e":0.009,"f":0.009},
{"x":330,"a":0,"b":0,"c":0,"d":0,"e":0,"f":0},
{"x":330.15,"a":-0.052,"b":-0.052,"c":-0.052,"d":-0.009,"e":-0.009,"f":-0.009},
{"x":330.35,"a":-0.041,"b":-0.041,"c":-0.041,"d":-0.019,"e":-0.019,"f":-0.019},
{"x":330.55,"a":-0.049,"b":-0.049,"c":-0.049,"d":-0.027,"e":-0.027,"f":-0.027},
{"x":330.8,"a":-0.043,"b":-0.043,"c":-0.043,"d":-0.033,"e":-0.033,"f":-0.033},
{"x":331.1,"a":-0.047,"b":-0.047,"c":-0.047,"d":-0.038,"e":-0.038,"f":-0.038},
{"x":331.5,"a":-0.045,"b":-0.045,"c":-0.045,"d":-0.042,"e":-0.042,"f":-0.042},
{"x":332.2,"a":-0.046,"b":-0.046,"c":-0.046,"d":-0.045,"e":-0.045,"f":-0.045},
{"x":333.2,"a":-0.046,"b":-0.046,"c":-0.046,"d":-0.047,"e":-0.047,"f":-0.047},
{"x":334.5,"a":-0.046,"b":-0.046,"c":-0.046,"d":-0.048,"e":-0.048,"f":-0.048},
{"x":336,"a":-0.046,"b":-0.046,"c":-0.046,"d":-0.048,"e":-0.048,"f":-0.048},
{"x":337.5,"a":-0.046,"b":-0.046,"c":-0.046,"d":-0.048,"e":-0.048,"f":-0.048},
{"x":339,"a":-0.046,"b":-0.046,"c":-0.046,"d":-0.048,"e":-0.048,"f":-0.048},
{"x":340.5,"a":-0.046,"b":-0.046,"c":-0.046,"d":-0.048,"e":-0.048,"f":-0.048},
{"x":341.8,"a":-0.046,"b":-0.046,"c":-0.046,"d":-0.047,"e":-0.047,"f":-0.047},
{"x":342.8,"a":-0.046,"b":-0.046,"c":-0.046,"d":-0.045,"e":-0.045,"f":-0.045},
{"x":343.5,"a":-0.045,"b":-0.045,"c":-0.045,"d":-0.042,"e":-0.042,"f":-0.042},
{"x":343.9,"a":-0.048,"b":-0.048,"c":-0.048,"d":-0.038,"e":-0.038,"f":-0.038},
{"x":344.2,"a":-0.043,"b":-0.043,"c":-0.043,"d":-0.033,"e":-0.033,"f":-0.033},
{"x":344.45,"a":-0.05,"b":-0.05,"c":-0.05,"d":-0.027,"e":-0.027,"f":-0.027},
{"x":344.65,"a":-0.042,"b":-0.042,"c":-0.042,"d":-0.019,"e":-0.019,"f":-0.019},
{"x":344.85,"a":-0.058,"b":-0.058,"c":-0.058,"d":-0.009,"e":-0.009,"f":-0.009},
{"x":345,"a":0,"b":0,"c":0,"d":0,"e":0,"f":0},
{"x":345.15,"a":0.052,"b":0.052,"c":0.052,"d":0.009,"e":0.009,"f":0.009},
{"x":345.35,"a":0.041,"b":0.041,"c":0.041,"d":0.019,"e":0.019,"f":0.019},
{"x":345.55,"a":0.049,"b":0.049,"c":0.049,"d":0.027,"e":0.027,"f":0.027},
{"x":345.8,"a":0.043,"b":0.043,"c":0.043,"d":0.033,"e":0.033,"f":0.033},
{"x":346.1,"a":0.047,"b":0.047,"c":0.047,"d":0.038,"e":0.038,"f":0.038},
{"x":346.5,"a":0.045,"b":0.045,"c":0.045,"d":0.042,"e":0.042,"f":0.042},
{"x":347.2,"a":0.046,"b":0.046,"c":0.046,"d":0.045,"e":0.045,"f":0.045},
{"x":348.2,"a":0.046,"b":0.046,"c":0.046,"d":0.047,"e":0.047,"f":0.047},
{"x":349.5,"a":0.046,"b":0.046,"c":0.046,"d":0.048,"e":0.048,"f":0.048},
{"x":351,"a":0.046,"b":0.046,"c":0.046,"d":0.048,"e":0.048,"f":0.048},
{"x":352.5,"a":0.046,"b":0.046,"c":0.046,"d":0.048,"e":0.048,"f":0.048},
{"x":354,"a":0.046,"b":0.046,"c":0.046,"d":0.048,"e":0.048,"f":0.048},
{"x":355.5,"a":0.046,"b":0.046,"c":0.046,"d":0.048,"e":0.048,"f":0.048},
{"x":356.8,"a":0.046,"b":0.046,"c":0.046,"d":0.047,"e":0.047,"f":0.047},
{"x":357.8,"a":0.046,"b":0.046,"c":0.046,"d":0.045,"e":0.045,"f":0.045},
{"x":358.5,"a":0.045,"b":0.045,"c":0.045,"d":0.042,"e":0.042,"f":0.042},
{"x":358.9,"a":0.062,"b":0.058,"c":0.05,"d":0.038,"e":0.038,"f":0.038},
{"x":359.2,"a":0.045,"b":0.045,"c":0.045,"d":0.033,"e":0.033,"f":0.033},
{"x":359.45,"a":0.05,"b":0.05,"c":0.05,"d":0.025,"e":0.024,"f":0.023},
{"x":359.65,"a":0.042,"b":0.042,"c":0.042,"d":0.012,"e":0.014,"f":0.015},
{"x":359.85,"a":0.03,"b":0.03,"c":0.03,"d":-0.015,"e":-0.005,"f":0.004},
{"x":360,"a":-0.088,"b":-0.066,"c":-0.046,"d":-0.035,"e":-0.018,"f":-0.008}
],
"inset": [
{"x":30.05,"a":-0.003,"b":-0.003,"c":-0.003,"d":-0.002,"e":-0.002,"f":-0.001},
{"x":30.3,"a":-0.06,"b":-0.045,"c":-0.032,"d":-0.01,"e":-0.008,"f":-0.005},
{"x":30.63,"a":-0.107,"b":-0.078,"c":-0.055,"d":-0.02,"e":-0.016,"f":-0.012},
{"x":30.9,"a":-0.097,"b":-0.072,"c":-0.05,"d":-0.029,"e":-0.024,"f":-0.017},
{"x":31.15,"a":-0.086,"b":-0.065,"c":-0.045,"d":-0.038,"e":-0.031,"f":-0.021},
{"x":31.4,"a":-0.092,"b":-0.068,"c":-0.048,"d":-0.046,"e":-0.038,"f":-0.026},
{"x":31.67,"a":-0.1,"b":-0.076,"c":-0.053,"d":-0.055,"e":-0.045,"f":-0.03},
{"x":31.9,"a":-0.094,"b":-0.073,"c":-0.05,"d":-0.062,"e":-0.05,"f":-0.033},
{"x":32.1,"a":-0.09,"b":-0.069,"c":-0.048,"d":-0.068,"e":-0.054,"f":-0.036},
{"x":32.5,"a":-0.097,"b":-0.073,"c":-0.049,"d":-0.079,"e":-0.06,"f":-0.04},
{"x":32.9,"a":-0.092,"b":-0.07,"c":-0.048,"d":-0.086,"e":-0.064,"f":-0.043},
{"x":33.3,"a":-0.097,"b":-0.072,"c":-0.049,"d":-0.09,"e":-0.067,"f":-0.045},
{"x":33.7,"a":-0.093,"b":-0.07,"c":-0.048,"d":-0.092,"e":-0.069,"f":-0.046},
{"x":34.1,"a":-0.097,"b":-0.072,"c":-0.049,"d":-0.094,"e":-0.07,"f":-0.047},
{"x":34.5,"a":-0.093,"b":-0.07,"c":-0.048,"d":-0.095,"e":-0.071,"f":-0.048},
{"x":34.9,"a":-0.097,"b":-0.072,"c":-0.049,"d":-0.095,"e":-0.071,"f":-0.048},
{"x":35.3,"a":-0.093,"b":-0.07,"c":-0.048,"d":-0.096,"e":-0.071,"f":-0.048},
{"x":35.7,"a":-0.097,"b":-0.072,"c":-0.049,"d":-0.096,"e":-0.071,"f":-0.048},
{"x":36.1,"a":-0.093,"b":-0.07,"c":-0.048,"d":-0.096,"e":-0.071,"f":-0.048},
{"x":36.5,"a":-0.097,"b":-0.072,"c":-0.049,"d":-0.096,"e":-0.071,"f":-0.048},
{"x":36.9,"a":-0.093,"b":-0.07,"c":-0.048,"d":-0.096,"e":-0.071,"f":-0.048},
{"x":37.3,"a":-0.097,"b":-0.072,"c":-0.049,"d":-0.096,"e":-0.071,"f":-0.048},
{"x":37.7,"a":-0.093,"b":-0.07,"c":-0.048,"d":-0.096,"e":-0.071,"f":-0.048},
{"x":38.1,"a":-0.097,"b":-0.072,"c":-0.049,"d":-0.096,"e":-0.071,"f":-0.048},
{"x":38.5,"a":-0.093,"b":-0.07,"c":-0.048,"d":-0.096,"e":-0.071,"f":-0.048},
{"x":38.9,"a":-0.097,"b":-0.072,"c":-0.049,"d":-0.096,"e":-0.071,"f":-0.048},
{"x":39.3,"a":-0.093,"b":-0.07,"c":-0.048,"d":-0.096,"e":-0.071,"f":-0.048},
{"x":39.7,"a":-0.097,"b":-0.072,"c":-0.049,"d":-0.096,"e":-0.071,"f":-0.048},
{"x":40.1,"a":-0.093,"b":-0.07,"c":-0.048,"d":-0.095,"e":-0.071,"f":-0.048},
{"x":40.5,"a":-0.097,"b":-0.072,"c":-0.049,"d":-0.095,"e":-0.071,"f":-0.048},
{"x":40.9,"a":-0.093,"b":-0.07,"c":-0.048,"d":-0.094,"e":-0.071,"f":-0.048},
{"x":41.3,"a":-0.097,"b":-0.072,"c":-0.049,"d":-0.093,"e":-0.07,"f":-0.048},
{"x":41.7,"a":-0.092,"b":-0.07,"c":-0.048,"d":-0.091,"e":-0.069,"f":-0.047},
{"x":42.1,"a":-0.098,"b":-0.072,"c":-0.049,"d":-0.088,"e":-0.067,"f":-0.045},
{"x":42.5,"a":-0.088,"b":-0.069,"c":-0.048,"d":-0.085,"e":-0.063,"f":-0.041},
{"x":42.98,"a":-0.099,"b":-0.075,"c":-0.046,"d":-0.078,"e":-0.057,"f":-0.036},
{"x":43.2,"a":-0.093,"b":-0.07,"c":-0.045,"d":-0.074,"e":-0.053,"f":-0.033},
{"x":43.43,"a":-0.086,"b":-0.064,"c":-0.046,"d":-0.069,"e":-0.049,"f":-0.03},
{"x":43.7,"a":-0.095,"b":-0.07,"c":-0.05,"d":-0.062,"e":-0.044,"f":-0.026},
{"x":43.95,"a":-0.102,"b":-0.076,"c":-0.055,"d":-0.055,"e":-0.038,"f":-0.022},
{"x":44.2,"a":-0.11,"b":-0.081,"c":-0.057,"d":-0.047,"e":-0.031,"f":-0.017},
{"x":44.48,"a":-0.117,"b":-0.085,"c":-0.045,"d":-0.038,"e":-0.022,"f":-0.012},
{"x":44.7,"a":-0.07,"b":-0.055,"c":-0.025,"d":-0.028,"e":-0.014,"f":-0.007},
{"x":44.95,"a":-0.003,"b":-0.003,"c":-0.003,"d":-0.012,"e":-0.005,"f":-0.002}
],
"box": [{"x":29.55,"x2":45.7,"y":-0.122,"y2":-0.001}],
"notes": [
{"kind":"ellipse","x":36.8,"y":-0.075},
{"kind":"arrow","x":71.6,"y":-0.1087,"x2":56.4,"y2":-0.088}
]
},
"layer": [
{
"layer": [
{"data":{"name":"main"},"mark":{"type":"line","strokeWidth":1.2},
 "encoding":{
  "x":{"field":"x","type":"quantitative","scale":{"domain":[0,360],"nice":false,"zero":false},
       "axis":{"orient":"bottom","values":[0,50,100,150,200,250,300,350],"format":"d","grid":true,"tickSize":-9,"labelPadding":26,
               "title":"Angular Position θₛ  (Degree°)","titleX":482,"titleY":57,"titleBaseline":"middle","titleAlign":"center","titleAnchor":null}},
  "y":{"field":"a","type":"quantitative","scale":{"domain":[-0.17,0.17],"nice":false,"zero":false},
       "axis":{"orient":"left","values":[-0.15,-0.1,-0.05,0,0.05,0.1,0.15],"format":"~g","grid":true,"tickSize":-9,"labelPadding":16,
               "title":"Bₛ (T)","titleX":-67,"titleY":270,"titleAngle":-90,"titleBaseline":"middle","titleAlign":"center"}},
  "color":{"datum":"a","type":"nominal",
    "scale":{"domain":["a","b","c","d","e","f"],"range":["#000000","#ff0000","#0000ff","#7f7f7f","#1abfbf","#db7f00"]},
    "legend":{"title":null,"orient":"none","legendX":35,"legendY":18,"columns":2,"columnPadding":15,"rowPadding":1,"padding":7,
      "fillColor":"white","strokeColor":"#262626",
      "labelFont":"Liberation Serif","labelFontWeight":"bold","labelFontSize":19,"labelColor":"#000000","labelLimit":600,
      "symbolSize":324,"symbolStrokeWidth":2,"symbolOffset":22,"labelOffset":25,
      "labelExpr":"datum.value === 'a' ? 'Healthy ER- PMSM (Analytical)' : datum.value === 'd' ? 'Healthy ER- PMSM (FEA)' : datum.value === 'b' ? 'Faulty ER- PMSM : LT of 25% (Analytical)' : datum.value === 'e' ? 'Faulty ER- PMSM : LT of 25% (FEA)' : datum.value === 'c' ? 'Faulty ER- PMSM : LT of 50% (Analytical)' : 'Faulty ER- PMSM : LT of 50% (FEA)'",
      "encode":{"symbols":{"update":{
        "shape":{"signal":"datum.value === 'd' ? 'M-3.45,0H3.45M0,-0.5L0.5,0L0,0.5L-0.5,0Z' : datum.value === 'e' ? 'M-3.45,0H3.45M-0.39,-0.39H0.39V0.39H-0.39Z' : datum.value === 'f' ? 'M-3.45,0H-0.39M0.39,0H3.45M0.39,0C0.39,0.215 0.215,0.39 0,0.39C-0.215,0.39 -0.39,0.215 -0.39,0C-0.39,-0.215 -0.215,-0.39 0,-0.39C0.215,-0.39 0.39,-0.215 0.39,0Z' : 'M-3.45,0H3.45'"},
        "stroke":{"scale":"color","field":"value"},
        "fill":{"value":"transparent"},
        "strokeWidth":{"value":2},
        "opacity":{"value":1}
      }}}
    }}
 }},
{"data":{"name":"main"},"mark":{"type":"line","strokeWidth":1.2},
 "encoding":{"x":{"field":"x","type":"quantitative","axis":null},"y":{"field":"b","type":"quantitative","axis":null},"color":{"datum":"b","type":"nominal"}}},
{"data":{"name":"main"},"mark":{"type":"line","strokeWidth":1.2},
 "encoding":{"x":{"field":"x","type":"quantitative","axis":null},"y":{"field":"c","type":"quantitative","axis":null},"color":{"datum":"c","type":"nominal"}}},
{"data":{"name":"main"},"mark":{"type":"line","strokeWidth":2.5},
 "encoding":{
  "x":{"field":"x","type":"quantitative","axis":{"orient":"top","values":[0,50,100,150,200,250,300,350],"labels":false,"grid":false,"tickSize":-9,"title":null}},
  "y":{"field":"d","type":"quantitative","axis":{"orient":"right","values":[-0.15,-0.1,-0.05,0,0.05,0.1,0.15],"labels":false,"grid":false,"tickSize":-9,"title":null}},
  "color":{"datum":"d","type":"nominal"}}},
{"data":{"name":"main"},"mark":{"type":"point","shape":"diamond","filled":false,"size":50,"strokeWidth":1.5,"opacity":1},
 "encoding":{"x":{"field":"x","type":"quantitative","axis":null},"y":{"field":"d","type":"quantitative","axis":null},"color":{"datum":"d","type":"nominal"}}},
{"data":{"name":"main"},"mark":{"type":"line","strokeWidth":2.5},
 "encoding":{"x":{"field":"x","type":"quantitative","axis":null},"y":{"field":"e","type":"quantitative","axis":null},"color":{"datum":"e","type":"nominal"}}},
{"data":{"name":"main"},"mark":{"type":"point","shape":"square","filled":false,"size":42,"strokeWidth":1.5,"opacity":1},
 "encoding":{"x":{"field":"x","type":"quantitative","axis":null},"y":{"field":"e","type":"quantitative","axis":null},"color":{"datum":"e","type":"nominal"}}},
{"data":{"name":"main"},"mark":{"type":"line","strokeWidth":2.5},
 "encoding":{"x":{"field":"x","type":"quantitative","axis":null},"y":{"field":"f","type":"quantitative","axis":null},"color":{"datum":"f","type":"nominal"}}},
{"data":{"name":"main"},"mark":{"type":"point","shape":"circle","filled":false,"size":42,"strokeWidth":1.5,"opacity":1},
 "encoding":{"x":{"field":"x","type":"quantitative","axis":null},"y":{"field":"f","type":"quantitative","axis":null},"color":{"datum":"f","type":"nominal"}}},
{"data":{"name":"notes"},"transform":[{"filter":"datum.kind === 'ellipse'"}],
 "mark":{"type":"point","shape":"M0.452,0C0.452,0.552 0.25,1 0,1C-0.25,1 -0.452,0.552 -0.452,0C-0.452,-0.552 -0.25,-1 0,-1C0.25,-1 0.452,-0.552 0.452,0Z","size":23532,"filled":false,"stroke":"#000000","strokeWidth":1.6,"strokeDash":[9,4,2,4],"opacity":1},
 "encoding":{"x":{"field":"x","type":"quantitative","axis":null},"y":{"field":"y","type":"quantitative","axis":null}}},
{"data":{"name":"notes"},"transform":[{"filter":"datum.kind === 'arrow'"}],
 "mark":{"type":"rule","color":"#000000","strokeWidth":1},
 "encoding":{"x":{"field":"x","type":"quantitative","axis":null},"y":{"field":"y","type":"quantitative","axis":null},"x2":{"field":"x2"},"y2":{"field":"y2"}}},
{"data":{"name":"notes"},"transform":[{"filter":"datum.kind === 'arrow'"}],
 "mark":{"type":"point","shape":"M0,-1L0.55,0.9L0,0.5L-0.55,0.9Z","size":484,"filled":true,"color":"#000000","angle":311.2,"opacity":1,"strokeWidth":0},
 "encoding":{"x":{"field":"x2","type":"quantitative","axis":null},"y":{"field":"y2","type":"quantitative","axis":null}}}
],
"resolve":{"axis":{"x":"independent","y":"independent"}}
},
{
"layer": [
{"data":{"name":"box"},"mark":{"type":"rect","fill":"white","stroke":"#6e6e6e","strokeWidth":1},
 "encoding":{
  "x":{"field":"x","type":"quantitative","scale":{"domain":[29.55,45.7],"range":[187,341],"nice":false,"zero":false},"axis":null},
  "x2":{"field":"x2"},
  "y":{"field":"y","type":"quantitative","scale":{"domain":[-0.122,-0.001],"range":[510,395],"nice":false,"zero":false},"axis":null},
  "y2":{"field":"y2"}}},
{"data":{"name":"inset"},"mark":{"type":"line","strokeWidth":1.5},
 "encoding":{"x":{"field":"x","type":"quantitative","axis":null},"y":{"field":"a","type":"quantitative","axis":null},"color":{"datum":"a","type":"nominal"}}},
{"data":{"name":"inset"},"mark":{"type":"line","strokeWidth":1.5},
 "encoding":{"x":{"field":"x","type":"quantitative","axis":null},"y":{"field":"b","type":"quantitative","axis":null},"color":{"datum":"b","type":"nominal"}}},
{"data":{"name":"inset"},"mark":{"type":"line","strokeWidth":1.5},
 "encoding":{"x":{"field":"x","type":"quantitative","axis":null},"y":{"field":"c","type":"quantitative","axis":null},"color":{"datum":"c","type":"nominal"}}},
{"data":{"name":"inset"},"mark":{"type":"line","strokeWidth":1.2},
 "encoding":{"x":{"field":"x","type":"quantitative","axis":null},"y":{"field":"d","type":"quantitative","axis":null},"color":{"datum":"d","type":"nominal"}}},
{"data":{"name":"inset"},"mark":{"type":"point","shape":"diamond","filled":false,"size":40,"strokeWidth":1,"opacity":1},
 "encoding":{"x":{"field":"x","type":"quantitative","axis":null},"y":{"field":"d","type":"quantitative","axis":null},"color":{"datum":"d","type":"nominal"}}},
{"data":{"name":"inset"},"mark":{"type":"line","strokeWidth":1.2},
 "encoding":{"x":{"field":"x","type":"quantitative","axis":null},"y":{"field":"e","type":"quantitative","axis":null},"color":{"datum":"e","type":"nominal"}}},
{"data":{"name":"inset"},"mark":{"type":"point","shape":"square","filled":false,"size":36,"strokeWidth":1,"opacity":1},
 "encoding":{"x":{"field":"x","type":"quantitative","axis":null},"y":{"field":"e","type":"quantitative","axis":null},"color":{"datum":"e","type":"nominal"}}},
{"data":{"name":"inset"},"mark":{"type":"line","strokeWidth":1.2},
 "encoding":{"x":{"field":"x","type":"quantitative","axis":null},"y":{"field":"f","type":"quantitative","axis":null},"color":{"datum":"f","type":"nominal"}}},
{"data":{"name":"inset"},"mark":{"type":"point","shape":"circle","filled":false,"size":36,"strokeWidth":1,"opacity":1},
 "encoding":{"x":{"field":"x","type":"quantitative","axis":null},"y":{"field":"f","type":"quantitative","axis":null},"color":{"datum":"f","type":"nominal"}}}
]
}
],
"resolve":{"scale":{"x":"independent","y":"independent"}}
}
